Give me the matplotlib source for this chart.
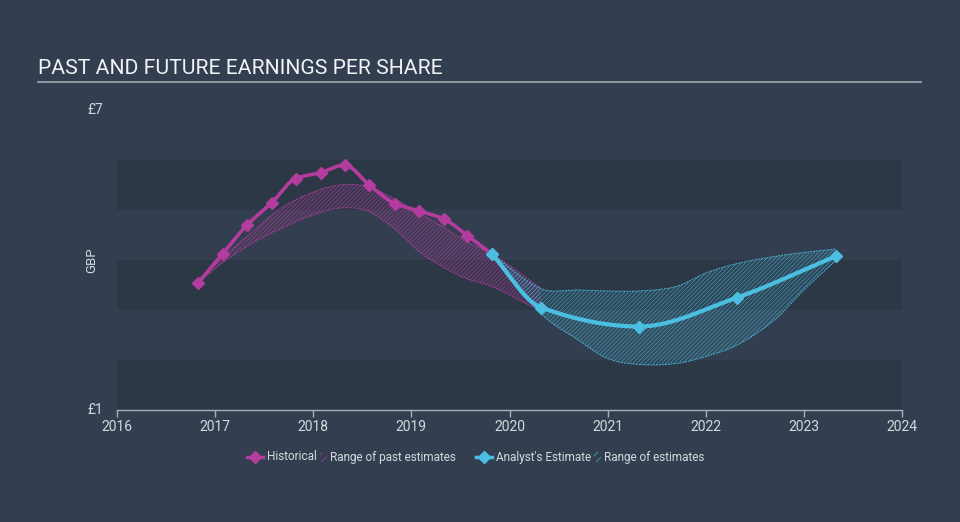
import numpy as np
import matplotlib
matplotlib.use("Agg")
import matplotlib.pyplot as plt
from matplotlib.lines import Line2D
from matplotlib.patches import Rectangle

plt.rcParams['font.family'] = ['Roboto', 'DejaVu Sans']
plt.rcParams['hatch.linewidth'] = 0.45

# ---- data ----
hist_x = [2016.83, 2017.08, 2017.32, 2017.58, 2017.82, 2018.08, 2018.32, 2018.57,
          2018.83, 2019.08, 2019.33, 2019.57, 2019.82]
hist_y = [3.55, 4.13, 4.69, 5.15, 5.63, 5.75, 5.90, 5.50, 5.13, 4.98, 4.82, 4.49, 4.12]

past_x = [2016.83, 2017.08, 2017.33, 2017.66, 2018.0, 2018.27, 2018.55, 2018.83,
          2019.09, 2019.36, 2019.56, 2019.82, 2020.08, 2020.32]
past_hi = [3.55, 4.05, 4.48, 5.02, 5.36, 5.50, 5.47, 5.22, 4.93, 4.62, 4.37, 4.12, 3.78, 3.43]
past_lo = [3.55, 3.95, 4.28, 4.62, 4.90, 5.04, 4.98, 4.62, 4.15, 3.82, 3.63, 3.47, 3.22, 2.97]

fc_x = [2019.82, 2020.32, 2021.32, 2022.32, 2023.33]
fc_y = [4.12, 3.05, 2.67, 3.25, 4.08]

rng_x = [2019.82, 2020.32, 2020.7, 2021.0, 2021.32, 2021.7, 2022.0, 2022.32, 2022.7, 2023.0, 2023.33]
rng_hi = [4.12, 3.43, 3.40, 3.38, 3.38, 3.47, 3.74, 3.93, 4.07, 4.15, 4.22]
rng_lo = [4.12, 2.93, 2.40, 2.03, 1.91, 1.93, 2.07, 2.30, 2.80, 3.40, 4.00]

x_ticks = [2016, 2017, 2018, 2019, 2020, 2021, 2022, 2023, 2024]
y_ticks = [1, 7]
y_tick_labels = ['£1', '£7']

BG = '#333f50'
BAND = '#2d3847'
MAG = '#b53c9f'
CYAN = '#4bbfe2'
TXT = '#d5d9de'


def monotone(xs, ys, n=300):
    x = np.asarray(xs, float)
    y = np.asarray(ys, float)
    h = np.diff(x)
    d = np.diff(y) / h
    m = np.zeros_like(y)
    m[0], m[-1] = d[0], d[-1]
    for i in range(1, len(x) - 1):
        if d[i - 1] * d[i] <= 0:
            m[i] = 0
        else:
            w1 = 2 * h[i] + h[i - 1]
            w2 = h[i] + 2 * h[i - 1]
            m[i] = (w1 + w2) / (w1 / d[i - 1] + w2 / d[i])
    return hermite(x, y, m, n)


def smooth(xs, ys, n=300):
    # Catmull-Rom style tangents (non-uniform)
    x = np.asarray(xs, float)
    y = np.asarray(ys, float)
    m = np.zeros_like(y)
    m[0] = (y[1] - y[0]) / (x[1] - x[0])
    m[-1] = (y[-1] - y[-2]) / (x[-1] - x[-2])
    for i in range(1, len(x) - 1):
        m[i] = (y[i + 1] - y[i - 1]) / (x[i + 1] - x[i - 1])
    return hermite(x, y, m, n)


def hermite(x, y, m, n):
    h = np.diff(x)
    xx = np.linspace(x[0], x[-1], n)
    idx = np.clip(np.searchsorted(x, xx) - 1, 0, len(x) - 2)
    t = (xx - x[idx]) / h[idx]
    h00 = 2 * t**3 - 3 * t**2 + 1
    h10 = t**3 - 2 * t**2 + t
    h01 = -2 * t**3 + 3 * t**2
    h11 = t**3 - t**2
    yy = h00 * y[idx] + h10 * h[idx] * m[idx] + h01 * y[idx + 1] + h11 * h[idx] * m[idx + 1]
    return xx, yy


fig = plt.figure(figsize=(9.6, 5.22), dpi=100, facecolor=BG)
ax = fig.add_axes([117 / 960, 112 / 522, 785 / 960, 300 / 522])
ax.set_facecolor('none')
ax.set_xlim(2016, 2024)
ax.set_ylim(1, 7)

for lo in (1, 3, 5):
    ax.axhspan(lo, lo + 1, color=BAND, lw=0, zorder=0)

# past estimate range
px, phi = smooth(past_x, past_hi)
_, plo = smooth(past_x, past_lo)
ax.fill_between(px, plo, phi, facecolor=(0.71, 0.24, 0.62, 0.10), edgecolor=(0.71, 0.24, 0.62, 0.75),
                hatch='////////', linewidth=0, zorder=2)
ax.plot(px, phi, color=MAG, lw=0.7, ls=(0, (2, 1)), zorder=2, alpha=0.9)
ax.plot(px, plo, color=MAG, lw=0.7, ls=(0, (2, 1)), zorder=2, alpha=0.9)

# forecast range
rx, rhi = smooth(rng_x, rng_hi)
_, rlo = smooth(rng_x, rng_lo)
ax.fill_between(rx, rlo, rhi, facecolor=(0.29, 0.75, 0.89, 0.10), edgecolor=(0.29, 0.75, 0.89, 0.7),
                hatch='////////', linewidth=0, zorder=3)
ax.plot(rx, rhi, color=CYAN, lw=0.7, ls=(0, (2, 1)), zorder=3, alpha=0.9)
ax.plot(rx, rlo, color=CYAN, lw=0.7, ls=(0, (2, 1)), zorder=3, alpha=0.9)

# historical line
hx, hy = monotone(hist_x, hist_y)
ax.plot(hx, hy, color=MAG, lw=2.6, zorder=4, solid_capstyle='round')
ax.plot(hist_x, hist_y, ls='none', marker='D', ms=6, color=MAG, zorder=5)

# analyst line
fx, fy = monotone(fc_x, fc_y)
ax.plot(fx, fy, color=CYAN, lw=3, zorder=6, solid_capstyle='round')
ax.plot(fc_x, fc_y, ls='none', marker='D', ms=6, color=CYAN, zorder=7)

# axes styling
for s in ('top', 'right', 'left'):
    ax.spines[s].set_visible(False)
ax.spines['bottom'].set_color('#a8afb8')
ax.spines['bottom'].set_linewidth(1)
ax.set_xticks(x_ticks)
ax.set_xticklabels([str(t) for t in x_ticks])
ax.tick_params(axis='x', colors='#a8afb8', length=5, width=1, labelcolor=TXT,
               labelsize=10, pad=2)
ax.set_yticks([])
for v, lab in zip(y_ticks, y_tick_labels):
    ax.text(-0.017, v, lab, transform=ax.get_yaxis_transform(), ha='right',
            va='center', color=TXT, fontsize=10)
ax.text(-0.032, 4, 'GBP', transform=ax.get_yaxis_transform(), ha='center', va='center',
        rotation=90, color=TXT, fontsize=9.5)

# title
fig.text(38 / 960, 1 - 68 / 522, 'PAST AND FUTURE EARNINGS PER SHARE', color='#f2f3f5',
         fontsize=15.2, ha='left', va='center')
fig.add_artist(Line2D([38 / 960, 921 / 960], [1 - 82 / 522, 1 - 82 / 522],
                      color='#9aa1aa', lw=1.3))

# legend
ly = 1 - 457 / 522


def legend_marker(x0, color):
    fig.add_artist(Line2D([x0 / 960, (x0 + 16) / 960], [ly, ly], color=color, lw=2.5))
    fig.add_artist(Line2D([(x0 + 8) / 960], [ly], color=color, marker='D', ms=6, ls='none'))


def legend_hatch(x0, color):
    fig.add_artist(Rectangle((x0 / 960, ly - 5 / 522), 7 / 960, 10 / 522,
                             transform=fig.transFigure, facecolor='none',
                             edgecolor=color, hatch='////', lw=0))


legend_marker(247, MAG)
fig.text(267 / 960, ly, 'Historical', color=TXT, fontsize=8.5, va='center', ha='left')
legend_hatch(320, MAG)
fig.text(330 / 960, ly, 'Range of past estimates', color=TXT, fontsize=8.5, va='center', ha='left')
legend_marker(476, CYAN)
fig.text(496 / 960, ly, "Analyst's Estimate", color=TXT, fontsize=8.5, va='center', ha='left')
legend_hatch(594, CYAN)
fig.text(604 / 960, ly, 'Range of estimates', color=TXT, fontsize=8.5, va='center', ha='left')

fig.savefig('out.png', dpi=100, facecolor=BG)
